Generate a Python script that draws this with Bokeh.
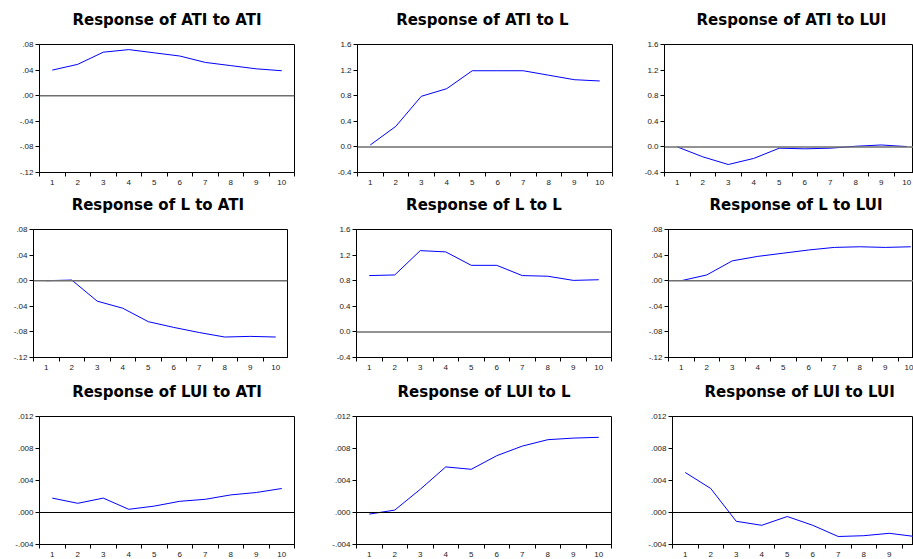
from bokeh.plotting import figure
from bokeh.layouts import column, row
from bokeh.models import Range1d, FixedTicker, Span, Title
from bokeh.embed import file_html
from bokeh.resources import INLINE

periods = [1, 2, 3, 4, 5, 6, 7, 8, 9, 10]

ati_to_ati = [0.040, 0.049, 0.068, 0.072, 0.067, 0.062, 0.052, 0.047, 0.042, 0.039]
ati_to_l = [0.03, 0.32, 0.79, 0.91, 1.19, 1.19, 1.19, 1.12, 1.05, 1.03]
ati_to_lui = [0.0, -0.155, -0.275, -0.18, -0.02, -0.03, -0.02, 0.01, 0.03, 0.005]
l_to_ati = [0.0, 0.001, -0.032, -0.043, -0.064, -0.073, -0.081, -0.088, -0.087, -0.088]
l_to_l = [0.88, 0.89, 1.27, 1.25, 1.04, 1.04, 0.88, 0.87, 0.805, 0.815]
l_to_lui = [0.0, 0.009, 0.031, 0.038, 0.043, 0.048, 0.052, 0.053, 0.052, 0.053]
lui_to_ati = [0.0018, 0.00115, 0.0018, 0.0004, 0.0008, 0.0014, 0.00165, 0.0022, 0.0025, 0.003]
lui_to_l = [-0.0002, 0.0003, 0.0029, 0.0057, 0.0054, 0.0071, 0.0083, 0.0091, 0.0093, 0.0094]
lui_to_lui = [0.0050, 0.0030, -0.0011, -0.0016, -0.0005, -0.0016, -0.0030, -0.0029, -0.0026, -0.0030]

ticks_a = [-0.12, -0.08, -0.04, 0.0, 0.04, 0.08]
labels_a = ["-.12", "-.08", "-.04", ".00", ".04", ".08"]
ticks_b = [-0.4, 0.0, 0.4, 0.8, 1.2, 1.6]
labels_b = ["-0.4", "0.0", "0.4", "0.8", "1.2", "1.6"]
ticks_c = [-0.004, 0.0, 0.004, 0.008, 0.012]
labels_c = ["-.004", ".000", ".004", ".008", ".012"]

titles = [
    "Response of ATI to ATI", "Response of  ATI to L", "Response of ATI to LUI",
    "Response of  L to ATI", "Response of L to L", "Response of L to LUI",
    "Response of LUI to ATI", "Response of LUI to L", "Response of LUI to LUI",
]

PX_PER_UNIT = 25.5
FRAME_H = 128


def make_panel(title, values, ticks, labels, left, fw, right, top, bottom,
               zero_color, zero_width, title_offset=None):
    w = left + fw + right
    h = top + FRAME_H + bottom
    x_end = 0.5 + fw / PX_PER_UNIT
    p = figure(width=w, height=h, output_backend="svg", toolbar_location=None,
               x_range=Range1d(0.5, x_end), y_range=Range1d(ticks[0], ticks[-1]),
               min_border_left=left, min_border_right=right,
               min_border_top=top, min_border_bottom=bottom)
    # spacer between title and frame
    p.add_layout(Title(text=" ", text_font_size="1px", standoff=12), "above")
    p.title.text = title
    p.title.text_font = "DejaVu Sans"
    p.title.text_font_size = "15px"
    p.title.text_font_style = "bold"
    p.title.standoff = 2
    if title_offset is None:
        p.title.align = "center"
    else:
        p.title.align = "left"
        p.title.offset = title_offset
    p.title.text_color = "#000000"
    p.grid.visible = False
    p.outline_line_color = "#000000"
    p.outline_line_width = 1
    p.background_fill_color = "white"
    p.border_fill_color = "white"

    xa = p.xaxis[0]
    xa.ticker = FixedTicker(ticks=periods, minor_ticks=[i + 0.5 for i in range(0, 11)])
    xa.major_tick_out = 0
    xa.major_tick_in = 0
    xa.minor_tick_out = 4
    xa.minor_tick_in = 0
    xa.minor_tick_line_color = "#000000"
    xa.axis_line_color = "#000000"
    xa.major_label_standoff = 3
    xa.major_label_text_font = "Liberation Sans"
    xa.major_label_text_font_size = "8px"
    xa.major_label_text_color = "#222222"

    ya = p.yaxis[0]
    ya.ticker = FixedTicker(ticks=ticks, minor_ticks=[])
    ya.major_label_overrides = {t: l for t, l in zip(ticks, labels)}
    ya.major_tick_out = 4
    ya.major_tick_in = 0
    ya.major_tick_line_color = "#000000"
    ya.axis_line_color = "#000000"
    ya.major_label_standoff = 2
    ya.major_label_text_font = "Liberation Sans"
    ya.major_label_text_font_size = "8px"
    ya.major_label_text_color = "#222222"

    p.add_layout(Span(location=0, dimension="width", line_color=zero_color, line_width=zero_width))
    p.line(periods, values, line_color="#0000FF", line_width=1)
    return p


GRAY = "#6e6e6e"
p1 = make_panel(titles[0], ati_to_ati, ticks_a, labels_a, 39, 255, 28, 44, 19, GRAY, 1.5)
p2 = make_panel(titles[1], ati_to_l, ticks_b, labels_b, 35, 255, 25, 44, 19, GRAY, 1.5)
p3 = make_panel(titles[2], ati_to_lui, ticks_b, labels_b, 27, 249, 0, 44, 19, GRAY, 1.5, 32)

p4 = make_panel(titles[3], l_to_ati, ticks_a, labels_a, 33, 254, 33, 38, 18, GRAY, 1.5)
p5 = make_panel(titles[4], l_to_l, ticks_b, labels_b, 36, 255, 24, 38, 18, GRAY, 1.5)
p6 = make_panel(titles[5], l_to_lui, ticks_a, labels_a, 33, 245, 0, 38, 18, GRAY, 1.5, 41)

p7 = make_panel(titles[6], lui_to_ati, ticks_c, labels_c, 39, 255, 28, 41, 15, "#000000", 1)
p8 = make_panel(titles[7], lui_to_l, ticks_c, labels_c, 34, 255, 26, 41, 15, "#000000", 1)
p9 = make_panel(titles[8], lui_to_lui, ticks_c, labels_c, 35, 241, 0, 41, 15, "#000000", 1, 32)

layout = column(row(p1, p2, p3, spacing=0), row(p4, p5, p6, spacing=0),
                row(p7, p8, p9, spacing=0), spacing=0)

open("out.html", "w").write(file_html(layout, INLINE))
